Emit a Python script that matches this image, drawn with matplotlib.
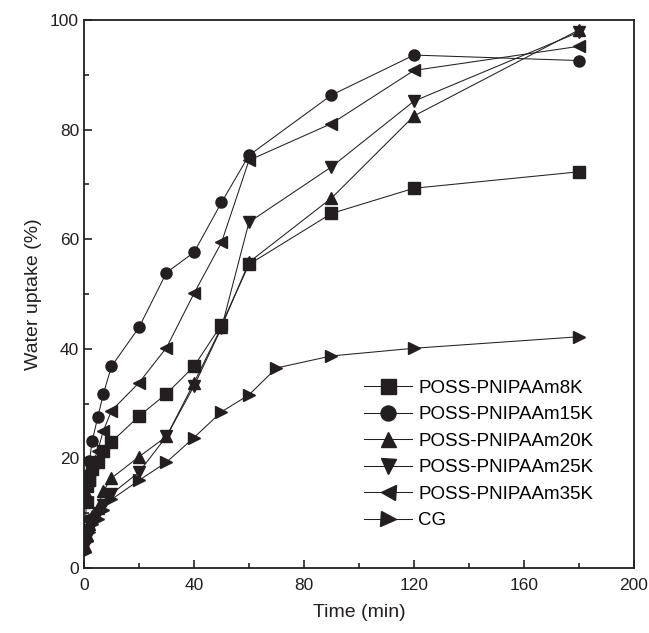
import matplotlib
matplotlib.use("Agg")
import matplotlib.pyplot as plt
from matplotlib.ticker import MultipleLocator

plt.rcParams['font.family'] = ['Liberation Sans', 'DejaVu Sans']

t = [0.5, 1, 2, 3, 5, 7, 10, 20, 30, 40, 50, 60, 90, 120, 180]
t_cg = [0.5, 1, 2, 3, 5, 7, 10, 20, 30, 40, 50, 60, 70, 90, 120, 180]

k8 = [12, 15, 16, 18, 19.3, 21.3, 23, 27.7, 31.8, 36.8, 44.4, 55.4, 64.7, 69.3, 72.3]
k15 = [13, 17, 19.6, 23.2, 27.5, 31.7, 36.8, 43.9, 53.9, 57.6, 66.7, 75.3, 86.3, 93.6, 92.6]
k20 = [4, 6, 8, 9.5, 11, 14, 16.4, 20.3, 24, 33.8, 44, 55.8, 67.5, 82.5, 98.2]
k25 = [4, 5.5, 7, 8.5, 10, 11.5, 13.5, 17.5, 24, 33.2, 43.8, 63.1, 73.2, 85.2, 97.8]
k35 = [9, 12, 16, 19, 21.4, 25, 28.7, 33.8, 40.2, 50.1, 59.4, 74.4, 81.1, 90.8, 95.2]
cg = [3, 5, 6.5, 8, 9, 10.5, 12.5, 16, 19.3, 23.8, 28.5, 31.6, 36.5, 38.7, 40.1, 42.2]

labels = ['POSS-PNIPAAm8K', 'POSS-PNIPAAm15K', 'POSS-PNIPAAm20K',
          'POSS-PNIPAAm25K', 'POSS-PNIPAAm35K', 'CG']
markers = ['s', 'o', '^', 'v', '<', '>']
series = [(t, k8), (t, k15), (t, k20), (t, k25), (t, k35), (t_cg, cg)]

col = '#231f20'
fig = plt.figure(figsize=(6.49, 6.33), dpi=100)
ax = fig.add_axes([0.1294, 0.1027, 0.8475, 0.8657])

for (x, y), m, lab in zip(series, markers, labels):
    ax.plot(x, y, marker=m, color=col, lw=0.75, markersize=8, label=lab)

ax.set_xlim(0, 200)
ax.set_ylim(0, 100)
ax.xaxis.set_major_locator(MultipleLocator(40))
ax.xaxis.set_minor_locator(MultipleLocator(20))
ax.yaxis.set_major_locator(MultipleLocator(20))
ax.yaxis.set_minor_locator(MultipleLocator(10))
ax.tick_params(which='both', direction='in', labelsize=12.5, colors=col)
ax.tick_params(which='major', length=6, width=1.2)
ax.tick_params(which='minor', length=3.5, width=1.2)
ax.tick_params(axis='x', pad=7)
for s in ax.spines.values():
    s.set_linewidth(1.3)
    s.set_color(col)

ax.set_xlabel('Time (min)', fontsize=14, color=col, labelpad=8)
ax.set_ylabel('Water uptake (%)', fontsize=14, color=col, labelpad=6)

ax.legend(loc='lower left', bbox_to_anchor=(0.479, 0.04), frameon=False,
          fontsize=13.5, handlelength=2.56, handletextpad=0.32, labelspacing=0.5,
          markerscale=1.35)

fig.savefig('out.png', dpi=100)
